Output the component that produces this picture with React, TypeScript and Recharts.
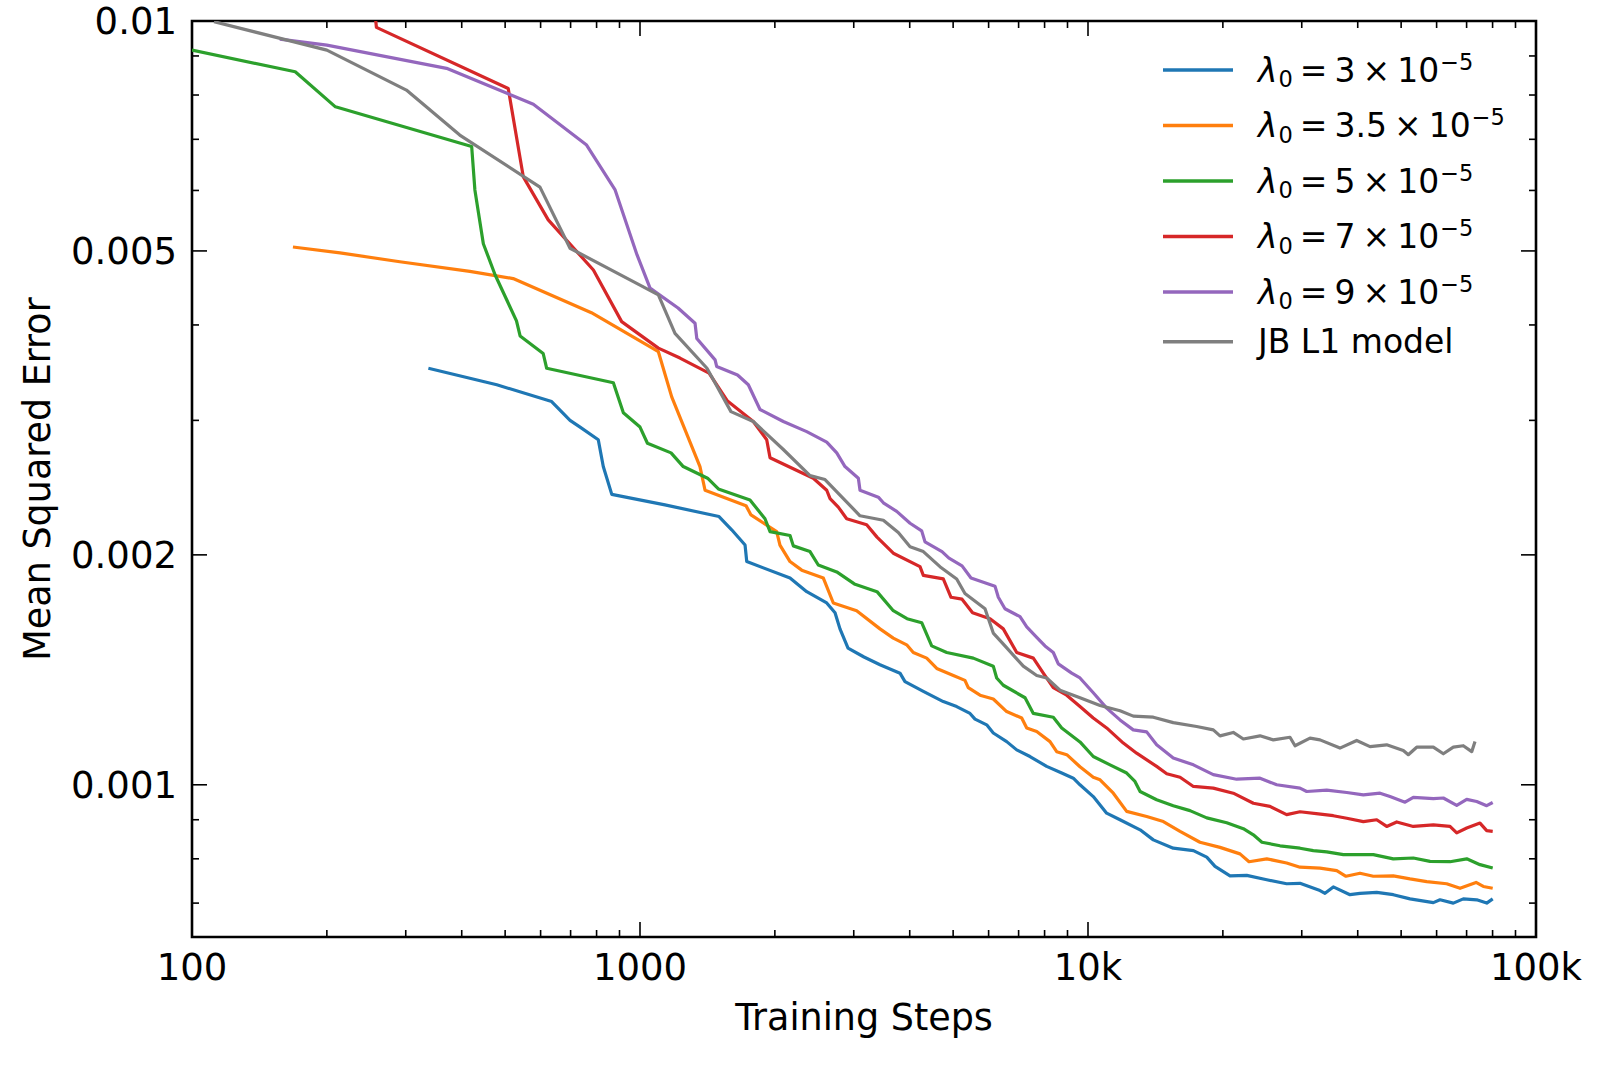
import React from 'react';
import { LineChart, Line, XAxis, YAxis, ReferenceArea } from 'recharts';

// ---------- axis ticks ----------
const X_MAJOR = [100, 1000, 10000, 100000];
const X_MINOR = [200, 300, 400, 500, 600, 700, 800, 900, 2000, 3000, 4000, 5000, 6000, 7000, 8000, 9000, 20000, 30000, 40000, 50000, 60000, 70000, 80000, 90000];
const X_LABELS = ['100', '1000', '10k', '100k'];
const Y_MAJOR = [0.001, 0.002, 0.005, 0.01];
const Y_MINOR = [0.0007, 0.0008, 0.0009, 0.003, 0.004, 0.006, 0.007, 0.008, 0.009];
const Y_LABELS = ['0.001', '0.002', '0.005', '0.01'];
const X_DOMAIN = [100, 100000];
const Y_DOMAIN = [0.000632, 0.01];

// ---------- series: [training step, mean squared error] ----------
const LAMBDA_3: [number, number][] = [
  [337, 0.00351], [479, 0.00334], [635, 0.003175], [698, 0.003], [735, 0.00294], [807, 0.00283], [828, 0.00261], [865, 0.0024],
  [1137, 0.002325], [1501, 0.002245], [1602, 0.002157], [1716, 0.00206], [1731, 0.00196], [2162, 0.001865], [2356, 0.00179],
  [2611, 0.00173], [2725, 0.00168], [2795, 0.0016], [2913, 0.00151], [3162, 0.00147], [3433, 0.001436], [3805, 0.0014], [3904, 0.001365],
  [4290, 0.001325], [4753, 0.001285], [5092, 0.001266], [5453, 0.00124], [5595, 0.001219], [5941, 0.001198], [6146, 0.001169],
  [6584, 0.001139], [6932, 0.001111], [7422, 0.001089], [8086, 0.001057], [8737, 0.001036], [9273, 0.00102], [9596, 0.001],
  [10275, 0.000965], [11006, 0.000918], [11787, 0.0009], [13070, 0.000873], [13990, 0.000847], [15500, 0.000826], [17190, 0.00082],
  [18410, 0.000804], [19210, 0.000782], [20750, 0.00076], [22610, 0.000761], [25060, 0.000751], [27760, 0.000742], [29730, 0.000743],
  [32950, 0.000727], [33810, 0.000721], [35280, 0.000735], [38440, 0.000718], [40470, 0.000721], [44100, 0.000723], [48030, 0.000718],
  [52340, 0.000709], [59000, 0.000701], [61060, 0.000707], [65380, 0.0007], [68820, 0.000709], [73740, 0.000707], [77620, 0.0007],
  [80050, 0.000709],
];

const LAMBDA_3_5: [number, number][] = [
  [168, 0.00506], [214, 0.00497], [291, 0.00484], [417, 0.0047], [521, 0.0046], [779, 0.00415], [1099, 0.00369], [1177, 0.00322],
  [1361, 0.00261], [1397, 0.00243], [1724, 0.00232], [1769, 0.002256], [2019, 0.002145], [2053, 0.00206], [2162, 0.00196],
  [2296, 0.00191], [2566, 0.001865], [2701, 0.00173], [3045, 0.00169], [3433, 0.0016], [3676, 0.001556], [3938, 0.001525],
  [4074, 0.00149], [4365, 0.001465], [4596, 0.00142], [5005, 0.00139], [5313, 0.00137], [5404, 0.00134], [5741, 0.00131],
  [6146, 0.001295], [6583, 0.001247], [7112, 0.001223], [7299, 0.001187], [7683, 0.001174], [8226, 0.001139], [8514, 0.001105],
  [8966, 0.001095], [9596, 0.001056], [10275, 0.001023], [10640, 0.001015], [11390, 0.000975], [12200, 0.000923], [13520, 0.000909],
  [14730, 0.000895], [16050, 0.000869], [17780, 0.000841], [19710, 0.000828], [21840, 0.000812], [22880, 0.000793], [25060, 0.0008],
  [27760, 0.00079], [29730, 0.00078], [32950, 0.000778], [35910, 0.000772], [37660, 0.000759], [40470, 0.000766], [43340, 0.000759],
  [48030, 0.00076], [52340, 0.000753], [57020, 0.000747], [63180, 0.000742], [67680, 0.000732], [73480, 0.000745], [76280, 0.000736],
  [80050, 0.000732],
];

const LAMBDA_5: [number, number][] = [
  [100, 0.00916], [170, 0.00858], [209, 0.00772], [421, 0.00685], [428, 0.00601], [447, 0.00511], [475, 0.00465], [530, 0.00405],
  [540, 0.00387], [608, 0.00367], [619, 0.00351], [872, 0.00336], [918, 0.00307], [1000, 0.00294], [1039, 0.0028], [1173, 0.00272],
  [1249, 0.00261], [1415, 0.00252], [1496, 0.00244], [1760, 0.00236], [1901, 0.00223], [1951, 0.002145], [2162, 0.00212],
  [2199, 0.002055], [2396, 0.00202], [2500, 0.00194], [2749, 0.0019], [3020, 0.00183], [3381, 0.00179], [3676, 0.00169],
  [3945, 0.00165], [4254, 0.00163], [4478, 0.00152], [4838, 0.00149], [5546, 0.001465], [6146, 0.00143], [6254, 0.00138],
  [6470, 0.00135], [7236, 0.0013], [7550, 0.00124], [8366, 0.001226], [8736, 0.001187], [9596, 0.001138], [10275, 0.001089],
  [11200, 0.001062], [12200, 0.001036], [12730, 0.00101], [13070, 0.00098], [14230, 0.000956], [15500, 0.000939], [16890, 0.000925],
  [18410, 0.000905], [20400, 0.000892], [22220, 0.000876], [23390, 0.00086], [24450, 0.000841], [26830, 0.000832], [29730, 0.000826],
  [31840, 0.00082], [34110, 0.000817], [37150, 0.00081], [39790, 0.00081], [43340, 0.00081], [48030, 0.0008], [53230, 0.000802],
  [58000, 0.000794], [64270, 0.000793], [70040, 0.0008], [74990, 0.000786], [80050, 0.000778],
];

const LAMBDA_7: [number, number][] = [
  [255, 0.0105], [258, 0.00981], [508, 0.00816], [549, 0.00625], [624, 0.00549], [787, 0.00472], [910, 0.00404], [1099, 0.00373],
  [1228, 0.00362], [1426, 0.00346], [1568, 0.00318], [1790, 0.00299], [1918, 0.00283], [1951, 0.00268], [2437, 0.00252],
  [2611, 0.00243], [2656, 0.00237], [2771, 0.00231], [2893, 0.00223], [3206, 0.00219], [3381, 0.00211], [3676, 0.00201],
  [4217, 0.00193], [4290, 0.00188], [4753, 0.00186], [4946, 0.00176], [5234, 0.00175], [5525, 0.00168], [6044, 0.00165],
  [6470, 0.0016], [6932, 0.00149], [7550, 0.001465], [7947, 0.0014], [8366, 0.00134], [8962, 0.00131], [9596, 0.001266],
  [10275, 0.001223], [11006, 0.001187], [11990, 0.001134], [12840, 0.0011], [14230, 0.001057], [14990, 0.001034], [16050, 0.001023],
  [17190, 0.000995], [19040, 0.00099], [21100, 0.000975], [23390, 0.000946], [25480, 0.000937], [27760, 0.000914], [29730, 0.000922],
  [32670, 0.000916], [35280, 0.000911], [37810, 0.000904], [41170, 0.000895], [44100, 0.0009], [46420, 0.000882], [48880, 0.000894],
  [53230, 0.000882], [59000, 0.000886], [64270, 0.000882], [66530, 0.000865], [70040, 0.000878], [74990, 0.000891], [77620, 0.000871],
  [80050, 0.000869],
];

const LAMBDA_9: [number, number][] = [
  [157, 0.00947], [200, 0.0093], [370, 0.00867], [578, 0.00778], [760, 0.00688], [880, 0.00601], [985, 0.00494], [1053, 0.00447],
  [1216, 0.00421], [1327, 0.00402], [1339, 0.00384], [1471, 0.0036], [1483, 0.00353], [1651, 0.00344], [1745, 0.00334],
  [1853, 0.0031], [2089, 0.00299], [2356, 0.0029], [2611, 0.00281], [2749, 0.00272], [2868, 0.00261], [3072, 0.00252],
  [3098, 0.00243], [3404, 0.00238], [3493, 0.00234], [3741, 0.00228], [4007, 0.0022], [4254, 0.00215], [4327, 0.00208],
  [4722, 0.00202], [4894, 0.00198], [5234, 0.001935], [5481, 0.001865], [6200, 0.00182], [6307, 0.00176], [6526, 0.0017],
  [7051, 0.00166], [7299, 0.00161], [7683, 0.00156], [8017, 0.00152], [8366, 0.00149], [8584, 0.00144], [9196, 0.0014],
  [9596, 0.00138], [10275, 0.00132], [11006, 0.00126], [11787, 0.001216], [12620, 0.00118], [13520, 0.001173], [14230, 0.001128],
  [15500, 0.001084], [17190, 0.001062], [19040, 0.001031], [21470, 0.001017], [24210, 0.00102], [26380, 0.001], [29730, 0.00099],
  [30770, 0.00098], [34110, 0.000984], [37810, 0.000977], [41170, 0.00097], [44860, 0.000975], [47220, 0.000965], [51010, 0.000949],
  [53230, 0.000963], [59000, 0.000959], [62110, 0.000961], [66530, 0.00094], [70040, 0.000957], [73730, 0.000951], [77620, 0.000939],
  [80050, 0.000948],
];

const JB_L1: [number, number][] = [
  [112, 0.00998], [200, 0.00916], [301, 0.00812], [396, 0.00709], [598, 0.00606], [698, 0.00504], [1000, 0.00451], [1099, 0.00438],
  [1197, 0.0039], [1411, 0.00351], [1596, 0.00308], [1790, 0.00299], [2086, 0.00275], [2396, 0.00254], [2588, 0.00251],
  [3098, 0.00225], [3493, 0.00222], [3772, 0.00214], [4007, 0.00205], [4290, 0.00202], [4672, 0.00193], [5092, 0.00186],
  [5313, 0.00178], [5890, 0.0017], [6146, 0.00158], [6526, 0.00152], [7171, 0.00143], [7683, 0.00139], [8086, 0.00138],
  [8660, 0.00133], [9596, 0.0013], [10640, 0.00127], [11790, 0.00125], [12620, 0.00123], [13990, 0.001226], [15500, 0.001206],
  [17480, 0.001192], [19040, 0.00118], [19710, 0.001159], [21100, 0.001171], [22220, 0.001148], [24210, 0.001159], [25920, 0.001145],
  [28240, 0.001154], [28980, 0.001125], [31300, 0.001151], [32950, 0.001145], [36510, 0.001117], [39790, 0.001143], [42610, 0.001122],
  [46420, 0.001128], [50560, 0.001109], [51880, 0.001095], [54160, 0.00112], [59000, 0.00112], [62110, 0.001098], [65380, 0.00112],
  [68820, 0.001125], [71870, 0.001105], [73090, 0.001139],
];

const SERIES_POINTS = [LAMBDA_3, LAMBDA_3_5, LAMBDA_5, LAMBDA_7, LAMBDA_9, JB_L1];
const SERIES_COLORS = ['#1f77b4', '#ff7f0e', '#2ca02c', '#d62728', '#9467bd', '#7f7f7f'];
const SERIES_COEFS = ['3', '3.5', '5', '7', '9', null];
const SERIES_NAMES = ['λ0 = 3 × 10^-5', 'λ0 = 3.5 × 10^-5', 'λ0 = 5 × 10^-5', 'λ0 = 7 × 10^-5', 'λ0 = 9 × 10^-5', 'JB L1 model'];

// ---------- layout ----------
const W = 1600;
const H = 1066;
const PLOT_LEFT = 192;
const PLOT_RIGHT = 1536;
const PLOT_TOP = 21;
const PLOT_BOTTOM = 937;
const Y_AXIS_W = 150;
const X_AXIS_H = 100;
const FONT = '"DejaVu Sans", sans-serif';
const TICK_FONT = 37;
const MAJOR_LEN = 15;
const MINOR_LEN = 7;
const TICK_W = 1.6;

const XTick = (props: any) => {
  const { x, y, payload } = props;
  const idx = X_MAJOR.indexOf(payload.value);
  const len = idx >= 0 ? MAJOR_LEN : MINOR_LEN;
  const top = y - (PLOT_BOTTOM - PLOT_TOP);
  return (
    <g>
      <line x1={x} y1={y} x2={x} y2={y - len} stroke="#000" strokeWidth={TICK_W} />
      <line x1={x} y1={top} x2={x} y2={top + len} stroke="#000" strokeWidth={TICK_W} />
      {idx >= 0 && (
        <text x={x} y={y + 43} textAnchor="middle" fontSize={TICK_FONT} fontFamily={FONT} fill="#000">
          {X_LABELS[idx]}
        </text>
      )}
    </g>
  );
};

const YTick = (props: any) => {
  const { x, y, payload } = props;
  const idx = Y_MAJOR.indexOf(payload.value);
  const len = idx >= 0 ? MAJOR_LEN : MINOR_LEN;
  const right = x + (PLOT_RIGHT - PLOT_LEFT);
  return (
    <g>
      <line x1={x} y1={y} x2={x + len} y2={y} stroke="#000" strokeWidth={TICK_W} />
      <line x1={right} y1={y} x2={right - len} y2={y} stroke="#000" strokeWidth={TICK_W} />
      {idx >= 0 && (
        <text x={x - 15} y={y + 13} textAnchor="end" fontSize={TICK_FONT} fontFamily={FONT} fill="#000">
          {Y_LABELS[idx]}
        </text>
      )}
    </g>
  );
};

const XTitle = (props: any) => {
  const vb = props.viewBox || { x: PLOT_LEFT, y: PLOT_BOTTOM, width: PLOT_RIGHT - PLOT_LEFT };
  return (
    <text x={vb.x + vb.width / 2} y={vb.y + 93} textAnchor="middle" fontSize={36.5} fontFamily={FONT} fill="#000">
      Training Steps
    </text>
  );
};

const YTitle = (props: any) => {
  const vb = props.viewBox || { x: PLOT_LEFT - Y_AXIS_W, y: PLOT_TOP, height: PLOT_BOTTOM - PLOT_TOP };
  const cx = vb.x + 8;
  const cy = vb.y + vb.height / 2;
  return (
    <text x={cx} y={cy} transform={`rotate(-90 ${cx} ${cy})`} textAnchor="middle" fontSize={36.5} fontFamily={FONT} fill="#000">
      Mean Squared Error
    </text>
  );
};

const LEGEND_ROWS_Y = [70, 125.5, 181, 236.5, 292, 341.7];
const LEGEND_LINE_X1 = 1163;
const LEGEND_LINE_X2 = 1233;
const LEGEND_TEXT_X = 1258;
const LEGEND_FONT = 33;
const LEGEND_SMALL = 22.5;

const Legend = () => (
  <svg width={W} height={H} style={{ position: 'absolute', left: 0, top: 0, pointerEvents: 'none' }}>
    {SERIES_COLORS.map((c, i) => {
      const ly = LEGEND_ROWS_Y[i];
      const by = ly + 11.7;
      const coef = SERIES_COEFS[i];
      return (
        <g key={i}>
          <line x1={LEGEND_LINE_X1} y1={ly} x2={LEGEND_LINE_X2} y2={ly} stroke={c} strokeWidth={3.4} />
          {coef === null ? (
            <text x={LEGEND_TEXT_X} y={by} fontSize={LEGEND_FONT} fontFamily={FONT} fill="#000">
              {SERIES_NAMES[i]}
            </text>
          ) : (
            <text x={LEGEND_TEXT_X} y={by} fontSize={LEGEND_FONT} fontFamily={FONT} fill="#000">
              <tspan fontStyle="italic">λ</tspan>
              <tspan fontSize={LEGEND_SMALL} dy={5.5} dx={1}>0</tspan>
              <tspan dy={-5.5} dx={7}>=</tspan>
              <tspan dx={7}>{coef}</tspan>
              <tspan dx={7}>×</tspan>
              <tspan dx={7}>10</tspan>
              <tspan fontSize={LEGEND_SMALL} dy={-12} dx={1}>−5</tspan>
            </text>
          )}
        </g>
      );
    })}
  </svg>
);

export default function App() {
  const xTicks = [...X_MAJOR, ...X_MINOR].sort((a, b) => a - b);
  const yTicks = [...Y_MAJOR, ...Y_MINOR].sort((a, b) => a - b);
  return (
    <div style={{ position: 'absolute', left: 0, top: 0, width: W, height: H, background: '#fff' }}>
      <LineChart
        width={W}
        height={H}
        margin={{ top: PLOT_TOP, right: W - PLOT_RIGHT, bottom: H - PLOT_BOTTOM - X_AXIS_H, left: PLOT_LEFT - Y_AXIS_W }}
      >
        <XAxis
          dataKey="step"
          type="number"
          scale="log"
          domain={X_DOMAIN}
          allowDataOverflow
          ticks={xTicks}
          interval={0}
          tick={<XTick />}
          tickLine={false}
          axisLine={false}
          tickSize={0}
          tickMargin={0}
          height={X_AXIS_H}
          label={<XTitle />}
        />
        <YAxis
          type="number"
          scale="log"
          domain={Y_DOMAIN}
          allowDataOverflow
          ticks={yTicks}
          interval={0}
          tick={<YTick />}
          tickLine={false}
          axisLine={false}
          tickSize={0}
          tickMargin={0}
          width={Y_AXIS_W}
          label={<YTitle />}
        />
        {SERIES_POINTS.map((pts, i) => (
          <Line
            key={SERIES_NAMES[i]}
            name={SERIES_NAMES[i]}
            data={pts.map(([step, mse]) => ({ step, mse }))}
            dataKey="mse"
            type="linear"
            stroke={SERIES_COLORS[i]}
            strokeWidth={3.2}
            strokeLinejoin="round"
            dot={false}
            activeDot={false}
            isAnimationActive={false}
          />
        ))}
        <ReferenceArea
          x1={X_DOMAIN[0]}
          x2={X_DOMAIN[1]}
          y1={Y_DOMAIN[0]}
          y2={Y_DOMAIN[1]}
          fill="none"
          fillOpacity={0}
          stroke="#000"
          strokeWidth={2.6}
          ifOverflow="visible"
        />
      </LineChart>
      <Legend />
    </div>
  );
}
